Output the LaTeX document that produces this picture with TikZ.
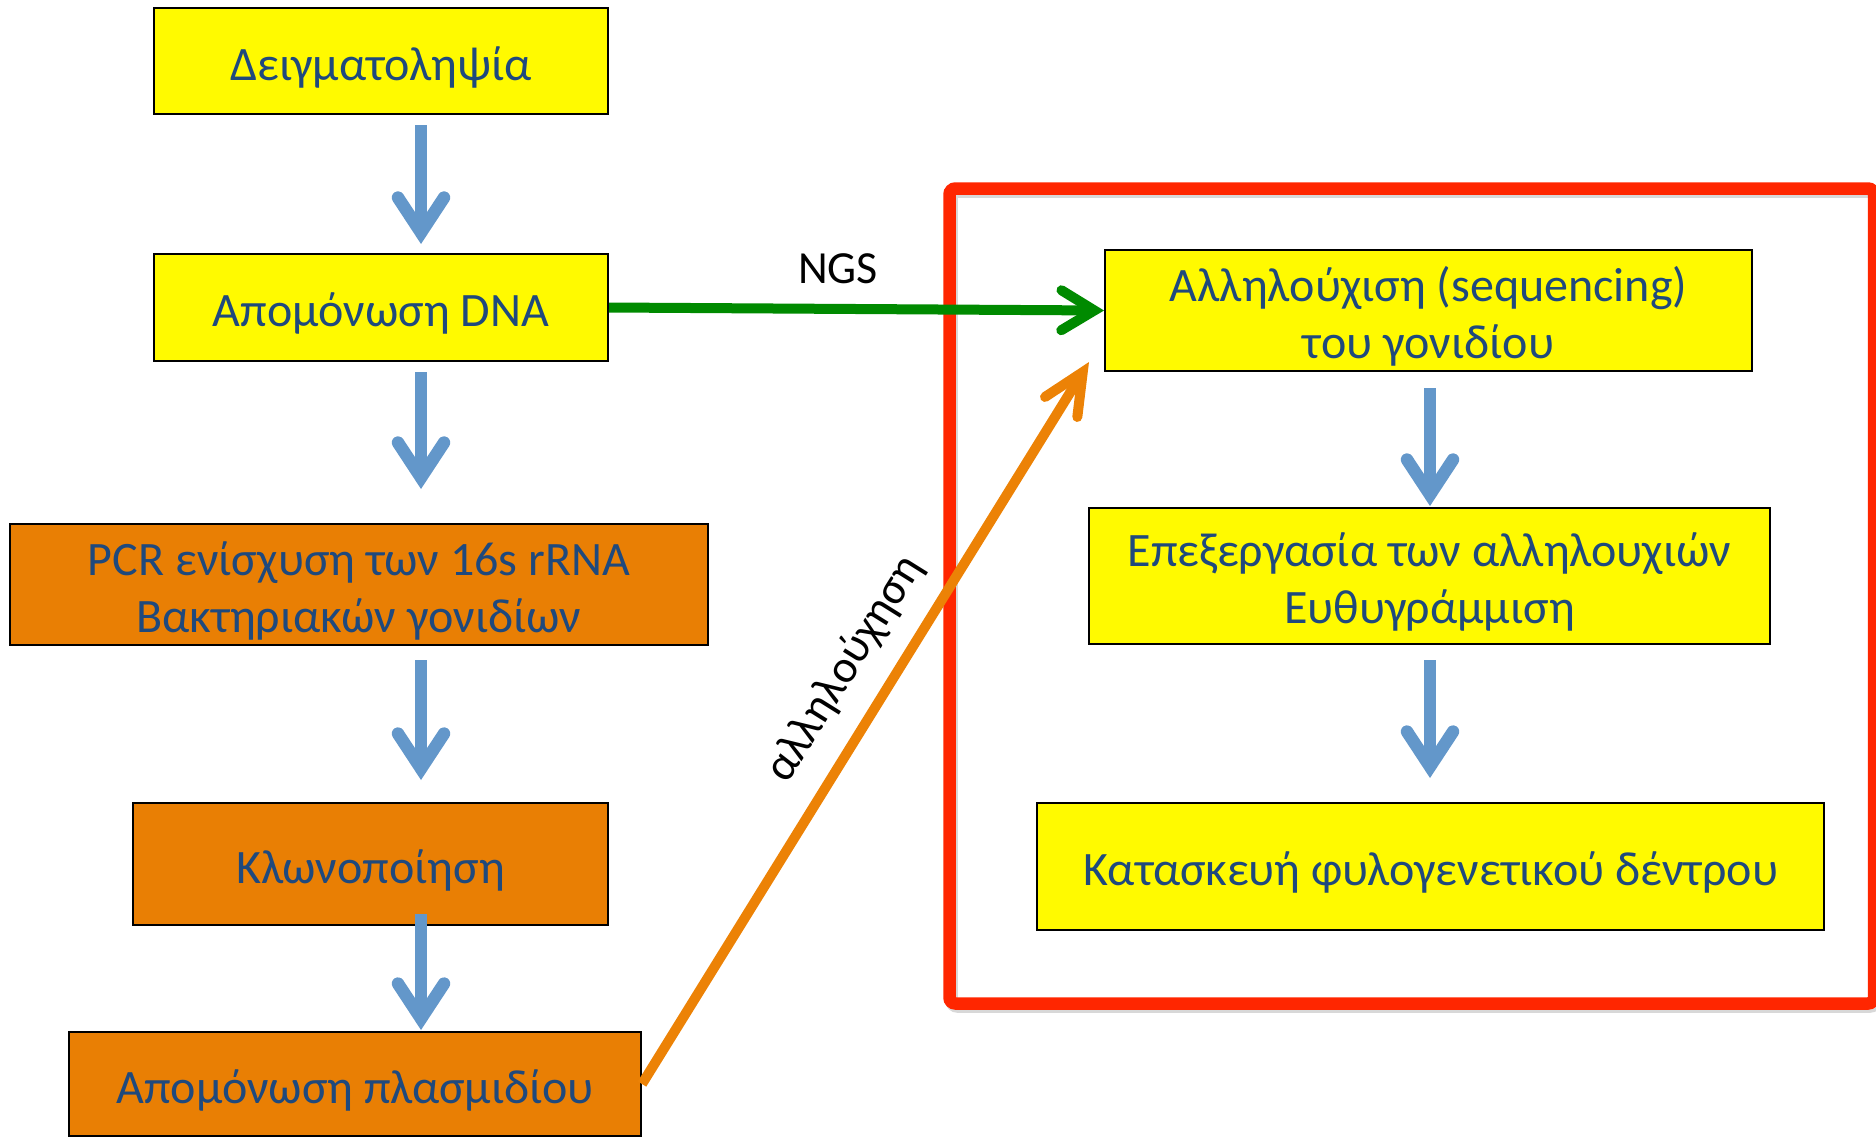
\documentclass[tikz,border=0pt]{standalone}
\usepackage{fontspec}
\setmainfont{Carlito}
\usetikzlibrary{arrows.meta,calc}
\definecolor{boxyellow}{RGB}{255,250,0}
\definecolor{boxorange}{RGB}{233,127,4}
\definecolor{txtblue}{RGB}{31,73,125}
\definecolor{arrblue}{RGB}{99,151,202}
\definecolor{arrgreen}{RGB}{0,138,0}
\definecolor{arrorange}{RGB}{236,130,6}
\definecolor{framered}{RGB}{255,38,0}
\newcommand{\boxtext}[1]{\raisebox{-8pt}[\height][\depth]{\begin{tabular}{@{}c@{}}#1\end{tabular}}}
\begin{document}
\begin{tikzpicture}[x=1pt,y=-1pt,
  box/.style={draw=black, line width=2pt, inner sep=0pt, text=txtblue,
    font=\fontsize{48}{57}\selectfont},
  ybox/.style={box, fill=boxyellow},
  obox/.style={box, fill=boxorange},
  lbl/.style={inner sep=0pt, text=black, font=\fontsize{46}{56}\selectfont},
  bluearr/.style={draw=arrblue, line width=12.5pt,
    -{Straight Barb[length=35pt, width=46pt, line join=miter, line cap=round]}},
  greenarr/.style={draw=arrgreen, line width=10pt,
    -{Straight Barb[length=33pt, width=40pt, line join=miter, line cap=round]}},
  orangearr/.style={draw=arrorange, line width=10pt,
    -{Straight Barb[length=41pt, width=38pt, line join=miter, line cap=round]}},
  frame/.style={draw=framered, line width=12.5pt, rounded corners=6pt}
]
\useasboundingbox (0,0) rectangle (1876,1138);

% red frame with soft shadow
\draw[frame, draw=black!30, opacity=0.5] (951.5,191.5) rectangle (1876,1006.5);
\draw[frame] (949.5,188.5) rectangle (1874,1003.5);

% left column
\node[ybox, minimum width=454pt, minimum height=106pt] (b1) at (381,61) {\boxtext{Δειγματοληψία}};
\node[ybox, minimum width=454pt, minimum height=107pt] (b2) at (381,307.5) {\boxtext{Απομόνωση DNA}};
\node[obox, minimum width=698pt, minimum height=121pt] (b3) at (359,584.5) {\boxtext{PCR ενίσχυση των 16s rRNA\\Βακτηριακών γονιδίων}};
\node[obox, minimum width=475pt, minimum height=122pt] (b4) at (370.5,864) {\boxtext{Κλωνοποίηση}};
\node[obox, minimum width=572pt, minimum height=104pt] (b5) at (355,1084) {\boxtext{Απομόνωση πλασμιδίου}};

% right column
\node[ybox, minimum width=647pt, minimum height=121pt] (b6) at (1428.5,310.5) {\boxtext{Αλληλούχιση (sequencing)\\του γονιδίου}};
\node[ybox, minimum width=681pt, minimum height=136pt] (b7) at (1429.5,576) {\boxtext{Επεξεργασία των αλληλουχιών\\Ευθυγράμμιση}};
\node[ybox, minimum width=787pt, minimum height=127pt] (b8) at (1430.5,866.5) {\boxtext{Κατασκευή φυλογενετικού δέντρου}};

\coordinate (axL) at (421,0);
\coordinate (axR) at (1430,0);

% blue arrows
\draw[bluearr, shorten <=10pt, shorten >=9pt] (b1.south -| axL) -- (b2.north -| axL);
\draw[bluearr, shorten <=10pt, shorten >=34pt] (b2.south -| axL) -- (b3.north -| axL);
\draw[bluearr, shorten <=14pt, shorten >=22pt] (b3.south -| axL) -- (b4.north -| axL);
\draw[bluearr, shorten <=-12pt, shorten >=1pt] (b4.south -| axL) -- (b5.north -| axL);
\draw[bluearr, shorten <=16pt, shorten >=1pt] (b6.south -| axR) -- (b7.north -| axR);
\draw[bluearr, shorten <=15pt, shorten >=24pt] (b7.south -| axR) -- (b8.north -| axR);

% green NGS arrow
\draw[greenarr] (b2.east) -- (b6.west);
\node[lbl] (ngs) at (838,269) {NGS};

% orange sequencing arrow
\coordinate (otip) at ($(b6.south west)+(-15,-10)$);
\draw[orangearr] (b5.east) -- (otip);
\node[lbl, rotate=58] (seq) at (845,669) {αλληλούχηση};
\end{tikzpicture}
\end{document}
